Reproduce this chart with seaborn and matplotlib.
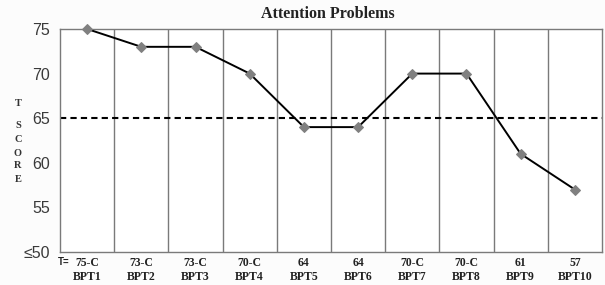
import matplotlib
matplotlib.use("Agg")
import matplotlib.pyplot as plt
import matplotlib.transforms as mtransforms
import seaborn as sns
import pandas as pd

categories = ["BPT1", "BPT2", "BPT3", "BPT4", "BPT5", "BPT6", "BPT7", "BPT8", "BPT9", "BPT10"]
t_labels = ["75-C", "73-C", "73-C", "70-C", "64", "64", "70-C", "70-C", "61", "57"]
scores = [75, 73, 73, 70, 64, 64, 70, 70, 61, 57]
y_ticks = [50, 55, 60, 65, 70, 75]
y_tick_labels = ["≤50", "55", "60", "65", "70", "75"]
cutoff = 65

sns.set_style("white")
plt.rcParams['font.family'] = ['Liberation Sans', 'DejaVu Sans']

df = pd.DataFrame({"pos": list(range(len(categories))), "score": scores})

fig = plt.figure(figsize=(6.05, 2.85), dpi=100)
fig.patch.set_facecolor("#fcfcfc")
ax = fig.add_axes([0.0992, 0.1158, 0.8958, 0.7825])
ax.set_facecolor("white")

sns.lineplot(data=df, x="pos", y="score", ax=ax, color="black", linewidth=1.4,
             marker="D", markersize=5.5, markerfacecolor="#808080", markeredgecolor="#808080",
             clip_on=False, zorder=5)

ax.axhline(cutoff, color="black", linestyle=(0, (3, 2)), linewidth=1.5, zorder=1)
for i in range(len(categories) - 1):
    ax.axvline(i + 0.5, color="#7a7a7a", linewidth=1.0, zorder=0)

ax.set_xlim(-0.5, len(categories) - 0.5)
ax.set_ylim(50, 75)
ax.set_yticks(y_ticks)
ax.set_yticklabels(y_tick_labels, fontsize=11.5, color="#3a3a3a")
ax.tick_params(axis="y", length=0, pad=7)
ax.set_xticks(range(len(categories)))
ax.set_xticklabels([])
ax.tick_params(axis="x", length=0)

trans = mtransforms.blended_transform_factory(ax.transData, fig.transFigure)
for i, (t, c) in enumerate(zip(t_labels, categories)):
    ax.text(i, 1 - 263 / 285, t, transform=trans, fontsize=8.5, fontweight="bold",
            family=["Liberation Serif"], ha="center", va="center", color="#222222")
    ax.text(i, 1 - 277.5 / 285, c, transform=trans, fontsize=8.5, fontweight="bold",
            family=["Liberation Serif"], ha="center", va="center", color="#222222")

for s in ax.spines.values():
    s.set_color("#7a7a7a")
    s.set_linewidth(1.0)
ax.set_xlabel("")
ax.set_ylabel("")

fig.text(328 / 605, 1 - 14.5 / 285, "Attention Problems", fontsize=11.5, fontweight="bold",
         family=["Liberation Serif"], ha="center", va="center", color="#222222")

fig.text(64 / 605, 1 - 262 / 285, "T=", fontsize=7, fontweight="bold",
         family=["Liberation Sans"], ha="center", va="center", color="#222222")

letters = ["T", "S", "C", "O", "R", "E"]
letter_y = [103, 125, 139, 153, 166, 179]
for ch, yy in zip(letters, letter_y):
    fig.text(18 / 605, 1 - yy / 285, ch, fontsize=7.5, fontweight="bold",
             family=["Liberation Serif"], ha="center", va="center", color="#333333")

fig.savefig("out.png", dpi=100, facecolor=fig.get_facecolor())
